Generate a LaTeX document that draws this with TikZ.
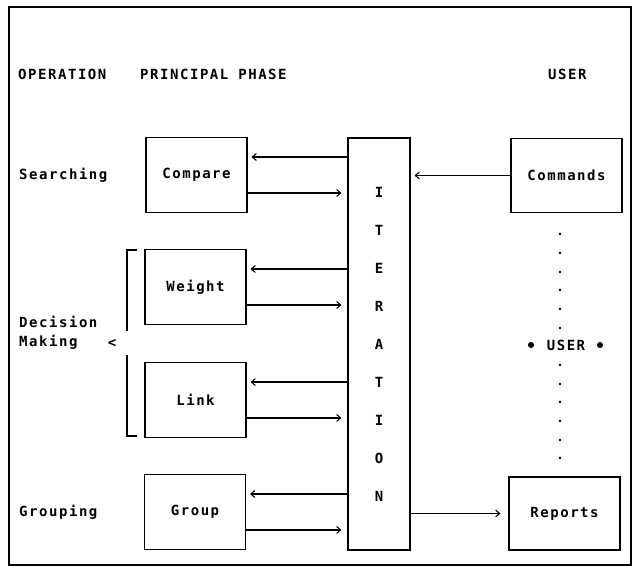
\documentclass[tikz,border=0pt]{standalone}
\usepackage{fontspec}
\newfontfamily\plotfont[LetterSpace=11]{DejaVu Sans Mono Bold}
\usetikzlibrary{arrows.meta,positioning,calc}

\begin{document}
\begin{tikzpicture}[x=1pt,y=-1pt,
  >={Straight Barb[length=4pt,width=7pt,line width=1.1pt]},
  txt/.style={font=\plotfont\fontsize{14}{19}\selectfont,inner sep=0pt},
  phasebox/.style={txt,draw,line width=1.1pt,minimum width=101pt,minimum height=75pt},
  userbox/.style={txt,draw,line width=1.1pt,minimum width=111pt,minimum height=74pt},
  link/.style={->,line width=1.1pt,shorten >=4pt}]
\useasboundingbox (0,0) rectangle (633,566);
\draw[line width=1.4pt] (9,7) rectangle (631,565);
% column heads
\node[txt,anchor=west] (hop) at (18,74) {OPERATION};
\node[txt,anchor=west] (hph) at (140,74) {PRINCIPAL PHASE};
\node[txt,anchor=west] (hus) at (548,74) {USER};
% operations
\node[txt,anchor=west] (srch) at (19,175) {Searching};
\node[txt,anchor=west,align=left] (dec) at (19,333) {Decision\\Making};
\node[txt] (lt) at (112,343) {<};
\node[txt,anchor=west] (grpg) at (19,512) {Grouping};
\draw[line width=1.1pt] (137,250) -- (127,250) -- (127,331);
\draw[line width=1.1pt] (127,355) -- (127,436) -- (137,436);
% phases
\node[phasebox] (cmp) at (196.5,175) {Compare};
\node[phasebox] (wgt) at (195.5,287) {Weight};
\node[phasebox] (lnk) at (195.5,400) {Link};
\node[phasebox] (grp) at (195,512) {Group};
% iteration
\node[txt,draw,line width=1.1pt,minimum width=62pt,minimum height=412pt,align=center,
  font=\plotfont\fontsize{14}{38}\selectfont] (iter) at (379,344)
  {I\\T\\E\\R\\A\\T\\I\\O\\N};
% user side
\node[userbox] (cmd) at (566.5,175.5) {Commands};
\node[userbox,minimum height=73pt] (rep) at (564.5,513.5) {Reports};
\node[txt] (usr) at (566,345) {USER};
\fill (531,345) circle (3pt);
\fill (600,345) circle (3pt);
\foreach \y in {234,253,272,290,309,328,365,384,402,421,440,458}
  \fill (560,\y) circle (1.3pt);
% phase links
\foreach \b in {cmp,wgt,lnk,grp} {
  \coordinate (\b-in) at ($(\b.east)+(0,-18)$);
  \coordinate (\b-out) at ($(\b.east)+(0,18)$);
  \draw[link] (iter.west |- \b-in) -- (\b-in);
  \draw[link,shorten >=6pt] (\b-out) -- (iter.west |- \b-out);
}
\draw[link] (cmd.west) -- (iter.east |- cmd.west);
\draw[link,shorten >=8pt] (iter.east |- rep.west) -- (rep.west);
\end{tikzpicture}
\end{document}
